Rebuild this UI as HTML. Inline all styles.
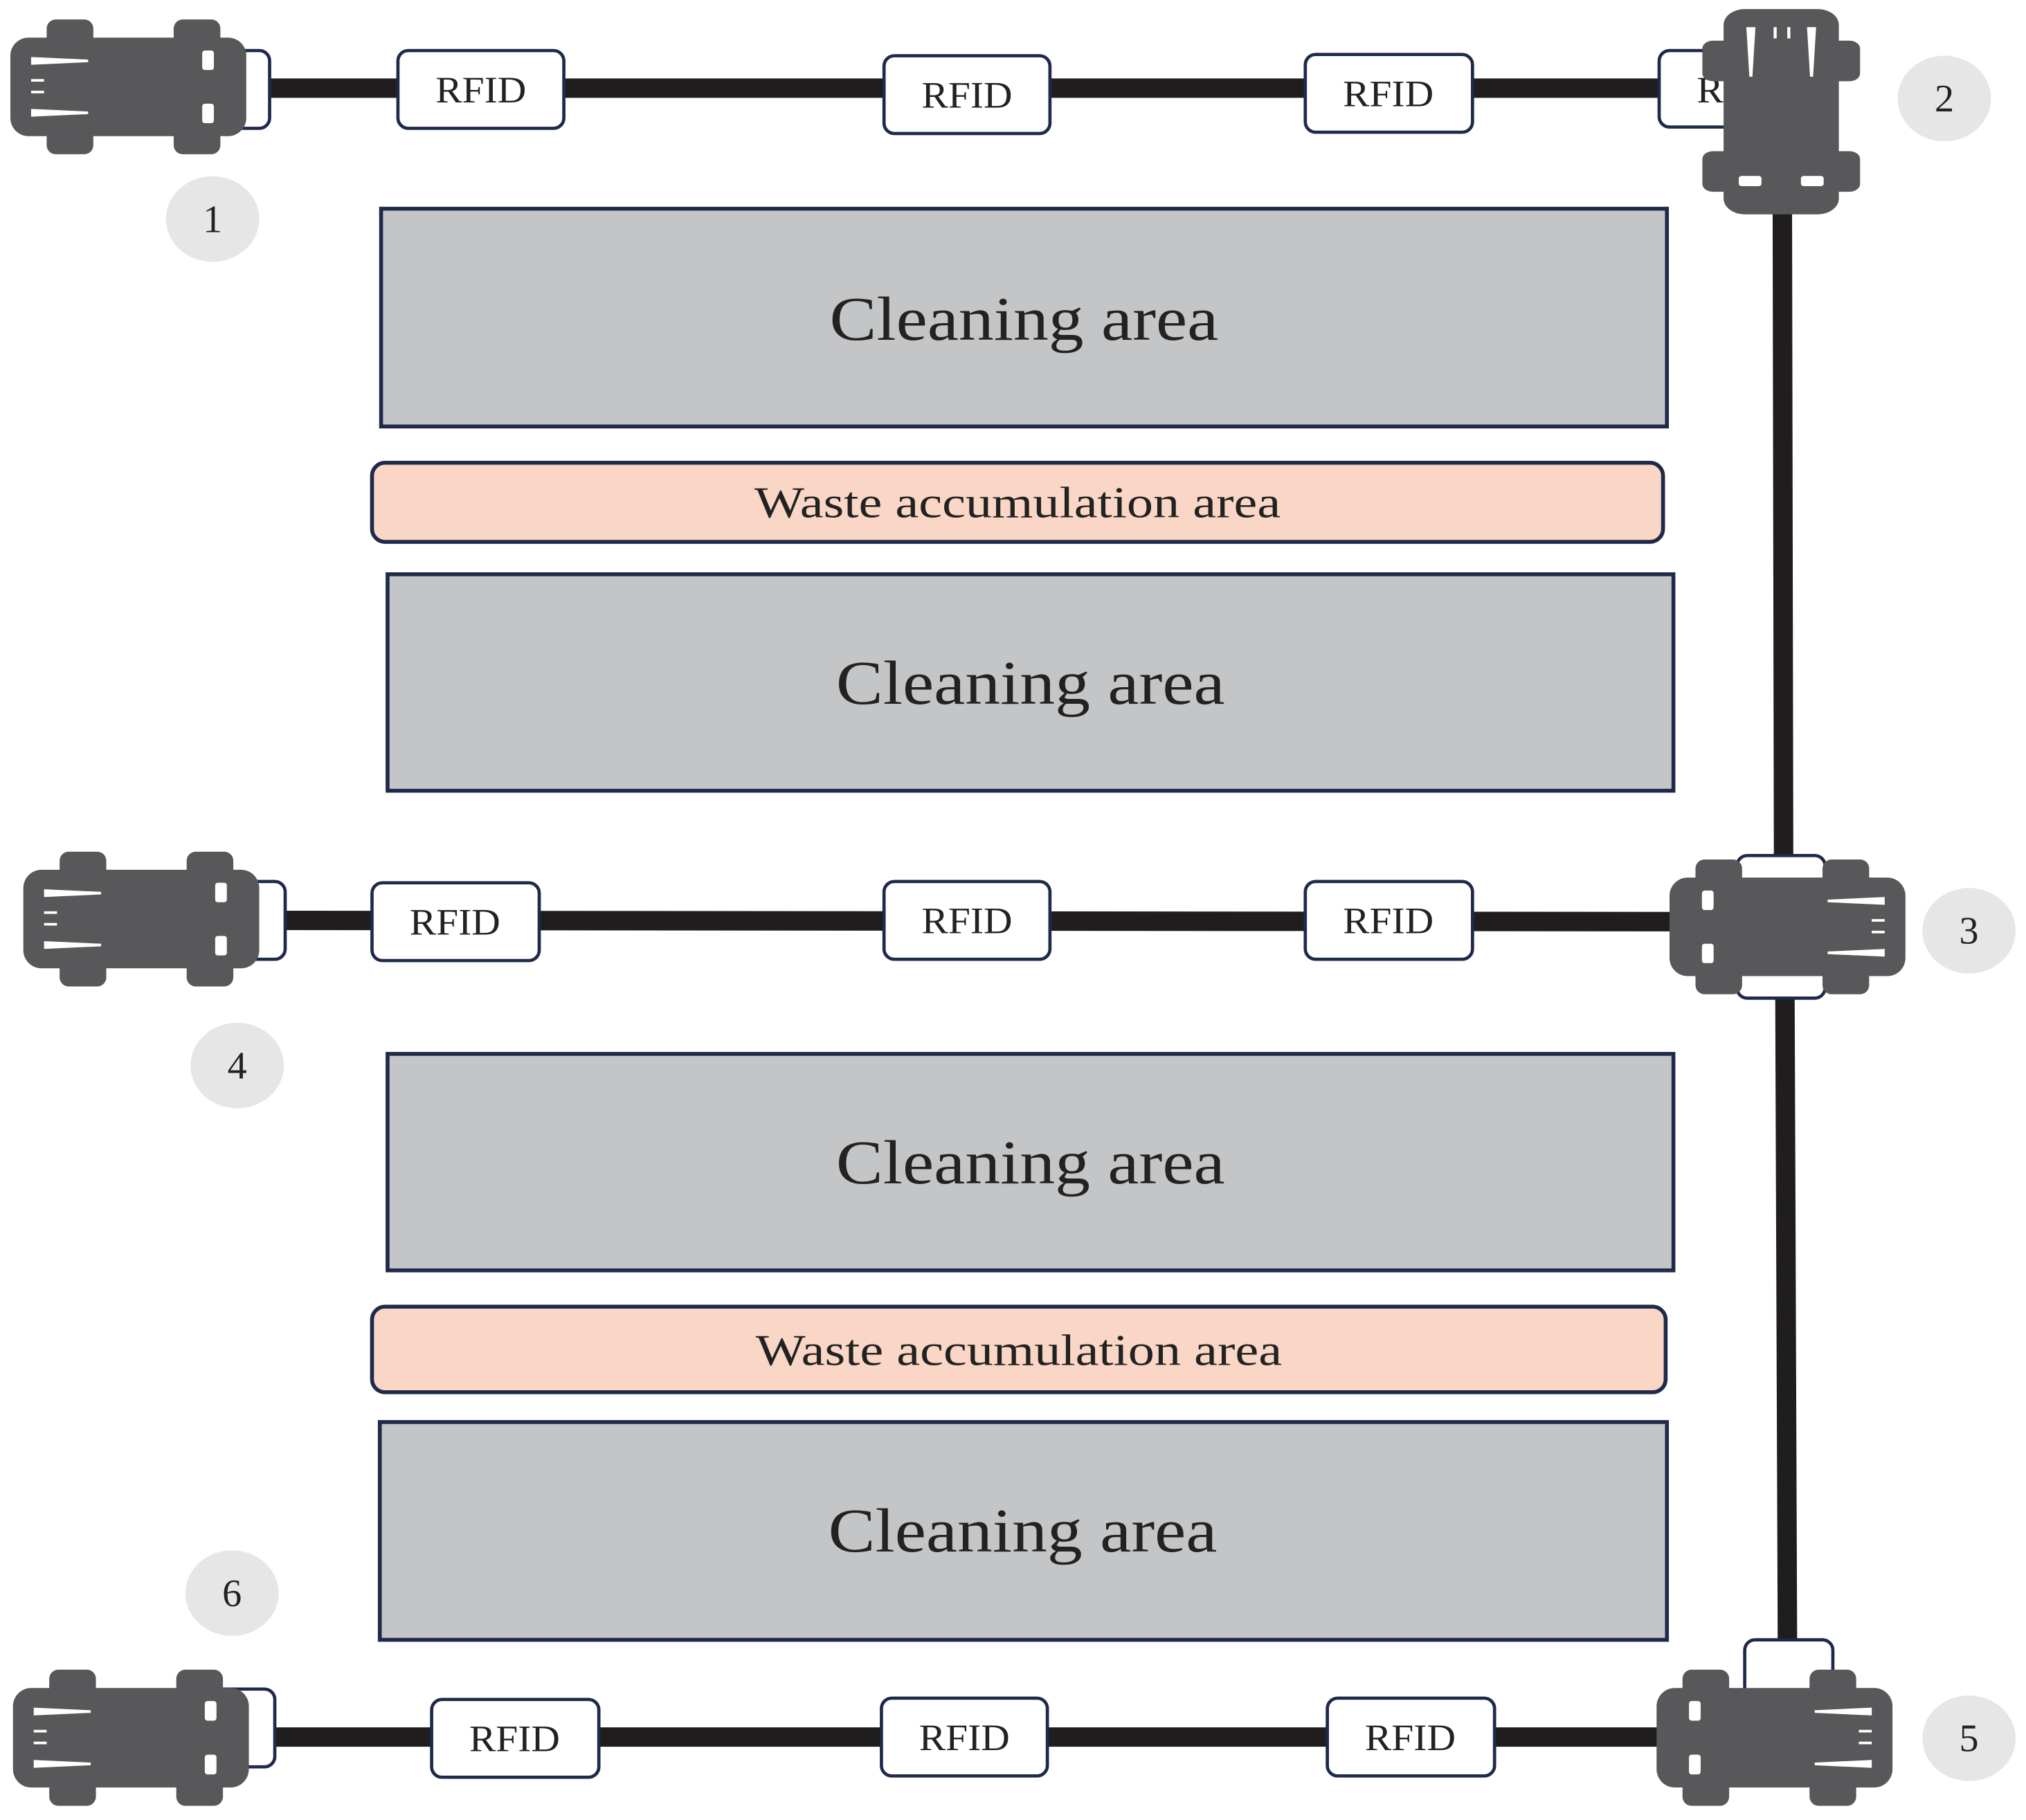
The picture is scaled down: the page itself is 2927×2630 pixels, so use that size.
<!DOCTYPE html>
<html><head><meta charset="utf-8"><style>
html,body{margin:0;padding:0;background:#fff;}
svg{display:block;}
text{font-family:"Liberation Serif",serif;fill:#222;}
</style></head><body>
<svg width="2927" height="2630" viewBox="0 0 1563 1404" preserveAspectRatio="none" xmlns="http://www.w3.org/2000/svg">
<defs>
<g id="car">
  <rect x="28" y="0" width="36" height="22" rx="7" fill="#58585a"/>
  <rect x="126" y="0" width="36" height="22" rx="7" fill="#58585a"/>
  <rect x="28" y="82" width="36" height="22" rx="7" fill="#58585a"/>
  <rect x="126" y="82" width="36" height="22" rx="7" fill="#58585a"/>
  <rect x="0" y="14" width="182" height="76" rx="14" fill="#58585a"/>
  <polygon points="16,29 60,31 60,33 16,35" fill="#fff"/>
  <polygon points="16,69 60,71 60,73 16,75" fill="#fff"/>
  <rect x="16" y="46" width="10" height="2" fill="#fff"/>
  <rect x="16" y="55" width="10" height="2" fill="#fff"/>
  <rect x="148" y="24" width="9" height="15" rx="2" fill="#fff"/>
  <rect x="148" y="65" width="9" height="15" rx="2" fill="#fff"/>
</g>
</defs>
<g stroke="#1f1d1e" stroke-width="15" fill="none">
  <line x1="180" y1="68" x2="1300" y2="68"/>
  <line x1="1375" y1="150" x2="1376" y2="670"/>
  <line x1="190" y1="710" x2="1300" y2="711"/>
  <line x1="1377" y1="760" x2="1379" y2="1280"/>
  <line x1="180" y1="1340" x2="1300" y2="1340"/>
</g>
<g fill="#c4c5c7" stroke="#1e2a4a" stroke-width="3">
  <rect x="294" y="161" width="992" height="168"/>
  <rect x="299" y="443" width="992" height="167"/>
  <rect x="299" y="813" width="992" height="167"/>
  <rect x="293" y="1097" width="993" height="168"/>
</g>
<g fill="#f9d6c5" stroke="#1e2a4a" stroke-width="3">
  <rect x="287" y="357" width="996" height="61" rx="10"/>
  <rect x="287" y="1008" width="998" height="66" rx="10"/>
</g>
<g font-size="48">
  <text x="640" y="262" textLength="300" lengthAdjust="spacingAndGlyphs">Cleaning area</text>
  <text x="645" y="543" textLength="300" lengthAdjust="spacingAndGlyphs">Cleaning area</text>
  <text x="645" y="913" textLength="300" lengthAdjust="spacingAndGlyphs">Cleaning area</text>
  <text x="639" y="1197" textLength="300" lengthAdjust="spacingAndGlyphs">Cleaning area</text>
</g>
<g font-size="34">
  <text x="582" y="399" textLength="406" lengthAdjust="spacingAndGlyphs">Waste accumulation area</text>
  <text x="583" y="1053" textLength="406" lengthAdjust="spacingAndGlyphs">Waste accumulation area</text>
</g>
<g fill="#fff" stroke="#1e2a4a" stroke-width="2.5">
  <rect x="150" y="39" width="58" height="60" rx="8"/>
  <rect x="307" y="39" width="128" height="60" rx="8"/>
  <rect x="682" y="43" width="128" height="60" rx="8"/>
  <rect x="1007" y="42" width="129" height="60" rx="8"/>
  <rect x="1280" y="39" width="70" height="59" rx="8"/>
  <rect x="160" y="680" width="60" height="60" rx="8"/>
  <rect x="287" y="681" width="129" height="60" rx="8"/>
  <rect x="682" y="680" width="128" height="60" rx="8"/>
  <rect x="1007" y="680" width="129" height="60" rx="8"/>
  <rect x="1340" y="660" width="68" height="110" rx="8"/>
  <rect x="150" y="1303" width="62" height="60" rx="8"/>
  <rect x="333" y="1311" width="129" height="60" rx="8"/>
  <rect x="680" y="1310" width="128" height="60" rx="8"/>
  <rect x="1024" y="1310" width="129" height="60" rx="8"/>
  <rect x="1346" y="1265" width="68" height="70" rx="8"/>
</g>
<g font-size="29">
  <text x="336" y="79" textLength="70" lengthAdjust="spacingAndGlyphs">RFID</text>
  <text x="711" y="83" textLength="70" lengthAdjust="spacingAndGlyphs">RFID</text>
  <text x="1036" y="82" textLength="70" lengthAdjust="spacingAndGlyphs">RFID</text>
  <text x="1309" y="79" textLength="70" lengthAdjust="spacingAndGlyphs">RFID</text>
  <text x="316" y="721" textLength="70" lengthAdjust="spacingAndGlyphs">RFID</text>
  <text x="711" y="720" textLength="70" lengthAdjust="spacingAndGlyphs">RFID</text>
  <text x="1036" y="720" textLength="70" lengthAdjust="spacingAndGlyphs">RFID</text>
  <text x="362" y="1351" textLength="70" lengthAdjust="spacingAndGlyphs">RFID</text>
  <text x="709" y="1350" textLength="70" lengthAdjust="spacingAndGlyphs">RFID</text>
  <text x="1053" y="1350" textLength="70" lengthAdjust="spacingAndGlyphs">RFID</text>
</g>
<use href="#car" transform="translate(8,15)"/>
<use href="#car" transform="translate(1435,7) rotate(90) scale(0.87,1.17)"/>
<use href="#car" transform="translate(18,657)"/>
<use href="#car" transform="translate(1470,663) scale(-1,1)"/>
<use href="#car" transform="translate(10,1288) scale(1,1.01)"/>
<use href="#car" transform="translate(1460,1288) scale(-1,1.01)"/>
<g fill="#e6e6e7">
  <ellipse cx="164" cy="169" rx="36" ry="33"/>
  <ellipse cx="1500" cy="76" rx="36" ry="33"/>
  <ellipse cx="1519" cy="718" rx="36" ry="33"/>
  <ellipse cx="183" cy="822" rx="36" ry="33"/>
  <ellipse cx="1519" cy="1341" rx="36" ry="33"/>
  <ellipse cx="179" cy="1229" rx="36" ry="33"/>
</g>
<g font-size="30" text-anchor="middle">
  <text x="164" y="179">1</text>
  <text x="1500" y="86">2</text>
  <text x="1519" y="728">3</text>
  <text x="183" y="832">4</text>
  <text x="1519" y="1351">5</text>
  <text x="179" y="1239">6</text>
</g>
</svg>
</body></html>
